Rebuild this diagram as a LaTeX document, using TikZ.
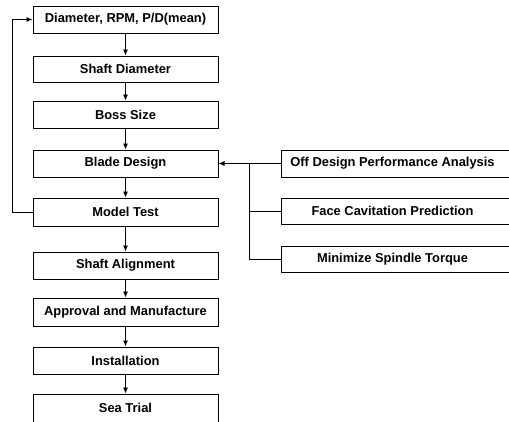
\documentclass[tikz,border=0pt]{standalone}
\usepackage{fontspec}
\setmainfont{Liberation Sans}
\usetikzlibrary{arrows.meta}
\begin{document}
\begin{tikzpicture}[x=1pt,y=-1pt,
  lbox/.style={draw,line width=1pt,minimum width=185pt,minimum height=27pt,inner sep=0pt,
    font=\fontsize{12.9}{14}\selectfont\bfseries},
  rbox/.style={draw,line width=1pt,minimum width=231pt,minimum height=27pt,inner sep=0pt,
    font=\fontsize{12.9}{14}\selectfont\bfseries},
  conn/.style={line width=0.9pt},
  arr/.style={line width=0.9pt,-{Latex[length=6pt,width=5pt]}}]
\useasboundingbox (0,0) rectangle (509,421);
\clip (0,0) rectangle (509,421);
\node[lbox] (b1) at (125.5,19.5) {Diameter, RPM, P/D(mean)};
\node[lbox,minimum height=26pt] (b2) at (125.5,69) {Shaft Diameter};
\node[lbox] (b3) at (125.5,114.5) {Boss Size};
\node[lbox] (b4) at (125.5,163.5) {Blade Design};
\node[lbox,minimum height=28pt] (b5) at (125.5,212) {Model Test};
\node[lbox] (b6) at (125.5,265.5) {Shaft Alignment};
\node[lbox,minimum height=28pt] (b7) at (125.5,312) {Approval and Manufacture};
\node[lbox] (b8) at (125.5,360.5) {Installation};
\node[lbox,minimum height=30pt,text depth=0pt] (b9) at (125.5,409) {\raisebox{2pt}{Sea Trial}};
\node[rbox] (r1) at (396.5,163.5) {\hspace*{-8pt}Off Design Performance Analysis};
\node[rbox,minimum height=26pt] (r2) at (396.5,211) {\hspace*{-8pt}Face Cavitation Prediction};
\node[rbox,minimum height=26pt] (r3) at (396.5,259) {\hspace*{-8pt}Minimize Spindle Torque};
\foreach \a/\b in {b1/b2,b2/b3,b3/b4,b4/b5,b5/b6,b6/b7,b7/b8,b8/b9}
  \draw[arr] (\a.south) -- (\b.north);
\coordinate (j1) at (249,163.5);
\coordinate (j3) at (249,259);
\draw[arr] (j1) -- (b4.east);
\draw[conn] (r1.west) -- (j1) -- (j3) -- (r3.west);
\draw[conn] (r2.west) -- (249,211);
\coordinate (fb) at (12,212);
\draw[arr] (b5.west) -- (fb) |- (b1.west);
\end{tikzpicture}
\end{document}
